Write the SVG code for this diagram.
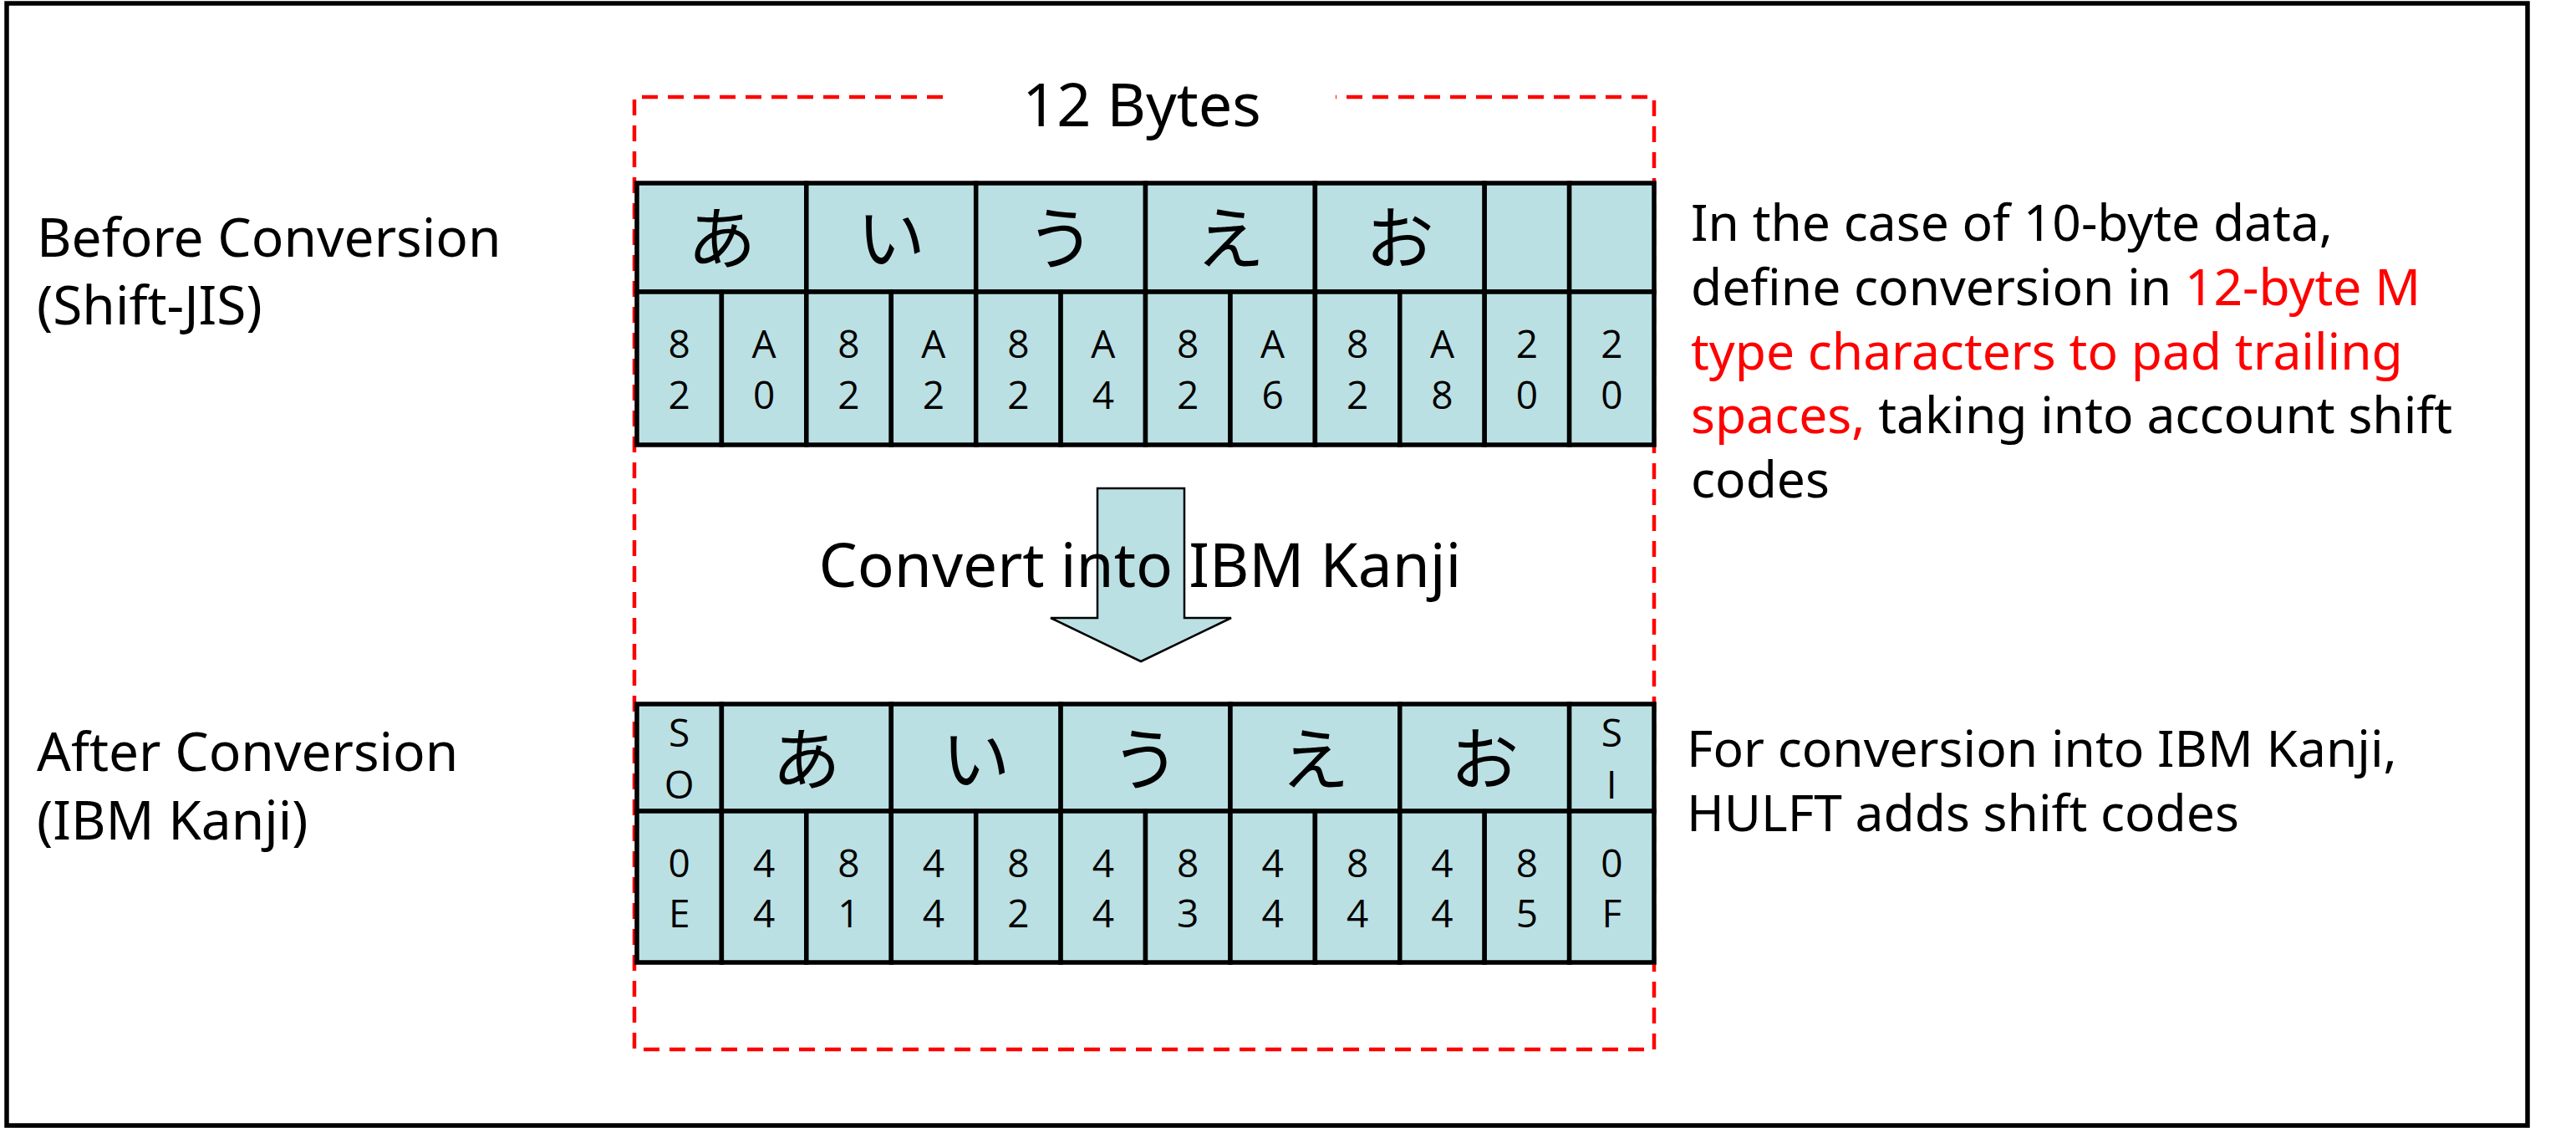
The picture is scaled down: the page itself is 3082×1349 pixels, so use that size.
<svg xmlns="http://www.w3.org/2000/svg" width="3082" height="1349" viewBox="0 0 3082 1349">
<style>
.cell{fill:#BBE0E3;stroke:#000;stroke-width:5.5}
.lbl{font-family:"Noto Sans","Noto Sans CJK JP",sans-serif;fill:#000}
.kana{font-family:"Noto Sans CJK JP",sans-serif;font-size:82px;text-anchor:middle;fill:#000}
.hex{font-family:"Open Sans","Noto Sans",sans-serif;font-size:46px;text-anchor:middle;fill:#000}
.red{fill:#FF0000}
</style>
<rect x="8" y="4" width="3016" height="1342" fill="#fff" stroke="#000" stroke-width="5.5"/>
<g id="bracket">
<path d="M1128,116 H759 V1255 H1979 V116 H1598" fill="none" stroke="#FF0000" stroke-width="4.5" stroke-dasharray="19 12"/>
<text class="lbl" x="1366" y="151" font-size="72" text-anchor="middle">12 Bytes</text>
</g>
<g id="label-before">
<text class="lbl" x="44" y="307" font-size="64">Before Conversion</text>
<text class="lbl" x="44" y="388" font-size="64">(Shift-JIS)</text>
</g>
<g id="label-after">
<text class="lbl" x="44" y="922" font-size="64">After Conversion</text>
<text class="lbl" x="44" y="1004" font-size="64">(IBM Kanji)</text>
</g>
<g id="note-top">
<text class="lbl" x="2023" y="288" font-size="60.5">In the case of 10-byte data,</text>
<text class="lbl" x="2023" y="365" font-size="60.5">define conversion in <tspan class="red">12-byte M</tspan></text>
<text class="lbl red" x="2023" y="442" font-size="60.5">type characters to pad trailing</text>
<text class="lbl" x="2023" y="518" font-size="60.5"><tspan class="red">spaces,</tspan> taking into account shift</text>
<text class="lbl" x="2023" y="595" font-size="60.5">codes</text>
</g>
<g id="note-bottom">
<text class="lbl" x="2018" y="917" font-size="60.5">For conversion into IBM Kanji,</text>
<text class="lbl" x="2018" y="994" font-size="60.5">HULFT adds shift codes</text>
</g>
<g id="table-sjis">
<rect class="cell" x="762" y="219" width="202.8" height="130"/>
<rect class="cell" x="964.8" y="219" width="202.9" height="130"/>
<rect class="cell" x="1167.7" y="219" width="202.8" height="130"/>
<rect class="cell" x="1370.5" y="219" width="202.9" height="130"/>
<rect class="cell" x="1573.4" y="219" width="202.8" height="130"/>
<rect class="cell" x="1776.2" y="219" width="101.4" height="130"/>
<rect class="cell" x="1877.6" y="219" width="101.4" height="130"/>
<rect class="cell" x="762" y="349" width="101.4" height="183"/>
<rect class="cell" x="863.4" y="349" width="101.4" height="183"/>
<rect class="cell" x="964.8" y="349" width="101.5" height="183"/>
<rect class="cell" x="1066.3" y="349" width="101.4" height="183"/>
<rect class="cell" x="1167.7" y="349" width="101.4" height="183"/>
<rect class="cell" x="1269.1" y="349" width="101.4" height="183"/>
<rect class="cell" x="1370.5" y="349" width="101.5" height="183"/>
<rect class="cell" x="1472" y="349" width="101.4" height="183"/>
<rect class="cell" x="1573.4" y="349" width="101.4" height="183"/>
<rect class="cell" x="1674.8" y="349" width="101.4" height="183"/>
<rect class="cell" x="1776.2" y="349" width="101.4" height="183"/>
<rect class="cell" x="1877.6" y="349" width="101.4" height="183"/>
<text class="kana" x="863.4" y="315">あ</text>
<text class="kana" x="1066.3" y="315">い</text>
<text class="kana" x="1269.1" y="315">う</text>
<text class="kana" x="1472" y="315">え</text>
<text class="kana" x="1674.8" y="315">お</text>
<text class="hex" y="428"><tspan x="812.7">8</tspan><tspan x="914.1">A</tspan><tspan x="1015.5">8</tspan><tspan x="1116.9">A</tspan><tspan x="1218.4">8</tspan><tspan x="1319.8">A</tspan><tspan x="1421.2">8</tspan><tspan x="1522.6">A</tspan><tspan x="1624.1">8</tspan><tspan x="1725.5">A</tspan><tspan x="1826.9">2</tspan><tspan x="1928.3">2</tspan></text>
<text class="hex" y="489"><tspan x="812.7">2</tspan><tspan x="914.1">0</tspan><tspan x="1015.5">2</tspan><tspan x="1116.9">2</tspan><tspan x="1218.4">2</tspan><tspan x="1319.8">4</tspan><tspan x="1421.2">2</tspan><tspan x="1522.6">6</tspan><tspan x="1624.1">2</tspan><tspan x="1725.5">8</tspan><tspan x="1826.9">0</tspan><tspan x="1928.3">0</tspan></text>
</g>
<g id="arrow">
<polygon points="1313,584 1417,584 1417,739 1473,739 1365,791 1257,739 1313,739" fill="#BBE0E3" stroke="#000" stroke-width="2.5"/>
<text class="lbl" x="1364" y="702" font-size="73" text-anchor="middle">Convert into IBM Kanji</text>
</g>
<g id="table-ibm">
<rect class="cell" x="762" y="842" width="101.4" height="128"/>
<rect class="cell" x="863.4" y="842" width="202.9" height="128"/>
<rect class="cell" x="1066.3" y="842" width="202.8" height="128"/>
<rect class="cell" x="1269.1" y="842" width="202.9" height="128"/>
<rect class="cell" x="1472" y="842" width="202.8" height="128"/>
<rect class="cell" x="1674.8" y="842" width="202.8" height="128"/>
<rect class="cell" x="1877.6" y="842" width="101.4" height="128"/>
<rect class="cell" x="762" y="970" width="101.4" height="181"/>
<rect class="cell" x="863.4" y="970" width="101.4" height="181"/>
<rect class="cell" x="964.8" y="970" width="101.5" height="181"/>
<rect class="cell" x="1066.3" y="970" width="101.4" height="181"/>
<rect class="cell" x="1167.7" y="970" width="101.4" height="181"/>
<rect class="cell" x="1269.1" y="970" width="101.4" height="181"/>
<rect class="cell" x="1370.5" y="970" width="101.5" height="181"/>
<rect class="cell" x="1472" y="970" width="101.4" height="181"/>
<rect class="cell" x="1573.4" y="970" width="101.4" height="181"/>
<rect class="cell" x="1674.8" y="970" width="101.4" height="181"/>
<rect class="cell" x="1776.2" y="970" width="101.4" height="181"/>
<rect class="cell" x="1877.6" y="970" width="101.4" height="181"/>
<text class="hex" x="812.7" y="893">S</text>
<text class="hex" x="812.7" y="955">O</text>
<text class="hex" x="1928.3" y="893">S</text>
<text class="hex" x="1928.3" y="955">I</text>
<text class="kana" x="964.8" y="938">あ</text>
<text class="kana" x="1167.7" y="938">い</text>
<text class="kana" x="1370.5" y="938">う</text>
<text class="kana" x="1573.4" y="938">え</text>
<text class="kana" x="1776.2" y="938">お</text>
<text class="hex" y="1049"><tspan x="812.7">0</tspan><tspan x="914.1">4</tspan><tspan x="1015.5">8</tspan><tspan x="1116.9">4</tspan><tspan x="1218.4">8</tspan><tspan x="1319.8">4</tspan><tspan x="1421.2">8</tspan><tspan x="1522.6">4</tspan><tspan x="1624.1">8</tspan><tspan x="1725.5">4</tspan><tspan x="1826.9">8</tspan><tspan x="1928.3">0</tspan></text>
<text class="hex" y="1109"><tspan x="812.7">E</tspan><tspan x="914.1">4</tspan><tspan x="1015.5">1</tspan><tspan x="1116.9">4</tspan><tspan x="1218.4">2</tspan><tspan x="1319.8">4</tspan><tspan x="1421.2">3</tspan><tspan x="1522.6">4</tspan><tspan x="1624.1">4</tspan><tspan x="1725.5">4</tspan><tspan x="1826.9">5</tspan><tspan x="1928.3">F</tspan></text>
</g>
</svg>
